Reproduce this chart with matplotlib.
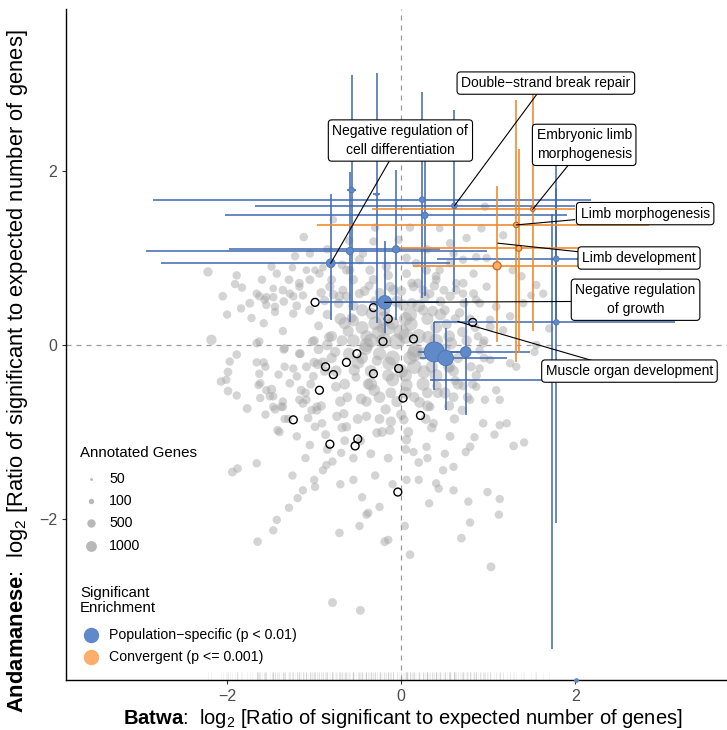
import numpy as np
import matplotlib.pyplot as plt

plt.rcParams['font.family'] = ['Liberation Sans', 'DejaVu Sans']
plt.rcParams['mathtext.fontset'] = 'custom'
plt.rcParams['mathtext.rm'] = 'Liberation Sans'
plt.rcParams['mathtext.bf'] = 'Liberation Sans:bold'
plt.rcParams['mathtext.it'] = 'Liberation Sans:italic'

# ---- background GO terms (grey cloud), by region: x = batwa, y = andamanese, n = annotated genes
# upper left
ul_x = [-2.22, -1.89, -1.91, -1.83, -2.05, -1.12, -1.22, -0.78, -1.49, -1.43,
        -1.25, -1.29, -1.17, -1.09, -0.99, -0.90, -0.94, -1.63, -1.55, -1.47,
        -1.74, -1.24, -1.13, -1.55, -1.45, -1.84, -1.72, -2.18, -1.89, -1.63,
        -1.34, -1.28, -1.47]
ul_y = [0.84, 0.80, 0.70, 0.66, 0.56, 1.24, 1.02, 1.44, 0.90, 0.82,
        0.89, 0.75, 0.67, 0.86, 0.86, 0.89, 0.82, 0.56, 0.55, 0.55,
        0.48, 0.56, 0.57, 0.46, 0.44, 0.42, 0.31, 0.06, -0.11, 0.04,
        -0.04, 0.59, 0.65]
ul_n = [700, 500, 500, 500, 550, 550, 500, 400, 500, 500,
        400, 550, 500, 400, 400, 400, 500, 500, 500, 500,
        600, 500, 500, 500, 500, 500, 500, 900, 550, 500,
        550, 500, 400]
# left middle
lm_x = [-1.97, -1.99, -2.07, -2.01, -1.99, -1.89, -1.77, -1.66, -1.58, -1.56,
        -1.63, -1.64, -1.49, -1.55, -1.47, -1.62, -1.45, -1.38, -1.36, -1.28,
        -1.41, -1.34, -1.24, -1.35, -1.66, -1.58, -1.36, -1.45, -1.24, -1.17,
        -1.09, -1.03, -1.40, -1.34, -1.07, -0.97, -0.99, -0.87, -0.91, -1.17,
        -1.09, -1.20, -1.15, -1.01]
lm_y = [-0.19, -0.31, -0.42, -0.40, -0.53, -0.58, -0.73, -0.20, -0.20, -0.25,
        -0.33, -0.46, -0.51, -0.52, -0.59, -0.61, -0.74, -0.71, -0.65, -0.44,
        -0.34, -0.25, -0.27, -0.05, 0.02, 0.25, 0.16, 0.38, 0.36, -0.63,
        -0.63, -0.75, -1.00, -0.85, -0.84, -0.71, -0.94, -1.03, -0.90, -0.10,
        -0.25, -0.36, -0.52, -0.36]
lm_n = [500, 550, 550, 500, 550, 500, 600, 500, 500, 500,
        500, 500, 700, 500, 500, 500, 550, 600, 500, 550,
        500, 500, 500, 600, 550, 500, 500, 500, 500, 550,
        550, 550, 550, 500, 550, 600, 550, 600, 550, 600,
        600, 550, 600, 600]
# lower left diagonal
ll_x = [-1.56, -1.47, -1.42, -1.94, -1.88, -1.66, -1.65, -1.47, -1.43, -1.29,
        -1.19, -1.13, -0.99, -1.00, -0.90, -0.86, -0.79, -0.69, -0.71, -0.38,
        -0.25, -0.19, -0.15, 0.04, 0.10, -0.48, -0.40, -0.79, -0.47]
ll_y = [-0.80, -0.71, -0.98, -1.46, -1.42, -1.36, -2.26, -2.13, -2.01, -1.87,
        -1.76, -1.67, -1.63, -1.55, -1.44, -1.38, -1.34, -1.24, -2.16, -1.93,
        -1.86, -2.26, -2.24, -2.08, -2.41, -2.08, -1.95, -2.96, -3.05]
ll_n = [500, 500, 550, 600, 550, 500, 550, 500, 500, 500,
        500, 500, 500, 500, 500, 500, 500, 500, 550, 550,
        500, 600, 500, 500, 550, 500, 500, 600, 600]
# lower right
lr_x = [1.29, 1.41, 1.03, 0.69, 0.79, 1.12, 1.13, 0.99, 0.77, 0.60,
        0.43, 0.32, 0.06, 0.14, 0.29, 0.48, 0.74, 0.84, 1.13, 1.21,
        1.07, 0.60, 0.40]
lr_y = [-1.16, -1.12, -2.55, -2.22, -2.04, -1.95, -1.77, -1.69, -1.80, -1.67,
        -1.65, -1.82, -1.55, -1.23, -1.17, -1.44, -1.23, -1.06, -0.92, -0.90,
        -1.03, -1.40, -1.59]
lr_n = [550, 500, 600, 550, 500, 500, 500, 500, 500, 500,
        500, 500, 500, 500, 500, 500, 500, 500, 500, 500,
        500, 500, 500]
# right middle
rm_x = [1.63, 1.55, 1.49, 1.40, 1.70, 1.55, 1.53, 1.09, 1.02, 1.25,
        1.17, 0.88, 0.90, 1.02, 1.25, 1.32, 0.90, 0.86, 1.09, 0.96,
        1.13, 0.79, 0.98, 0.86, 0.71, 0.63]
rm_y = [0.59, 0.69, 0.57, 0.48, 0.19, 0.00, -0.08, 0.44, 0.29, 0.33,
        0.17, 0.10, -0.06, -0.17, -0.21, -0.25, -0.27, -0.48, -0.52, -0.63,
        -0.63, -0.63, 0.67, 0.52, 0.59, 0.71]
rm_n = [500, 500, 400, 500, 500, 500, 500, 550, 500, 500,
        500, 500, 500, 500, 500, 500, 500, 500, 500, 500,
        500, 500, 500, 500, 500, 500]
# upper middle / right
um_x = [0.96, 0.75, 0.92, 0.44, 0.56, 1.17, 0.86, 0.98, 0.71, 0.56,
        0.44, 0.83, 1.28, 1.38, -0.32, -0.03, -0.44, 0.06, 0.17, 0.29,
        0.40, 0.63, 0.83, -0.63, -0.48, -0.36, -0.17, 0.06, -0.32, -0.13,
        0.14, 0.33, -0.48, -0.67]
um_y = [1.59, 1.23, 1.34, 1.34, 1.17, 1.26, 1.01, 1.00, 0.98, 0.94,
        0.86, 0.82, 0.86, 0.79, 1.19, 1.21, 1.05, 1.00, 0.94, 0.86,
        0.75, 0.63, 0.59, 0.86, 0.98, 0.86, 0.90, 0.82, 0.75, 0.67,
        0.67, 0.59, 0.59, 0.63]
um_n = [500, 500, 500, 400, 500, 500, 500, 500, 500, 500,
        500, 500, 500, 500, 500, 500, 500, 550, 550, 600,
        600, 600, 600, 600, 700, 700, 700, 600, 700, 800,
        700, 600, 700, 600]
# ring round the core
rc_x = [-0.92, -0.68, -0.47, -0.22, 0.08, 0.35, 0.61, 0.76, 0.86, 0.95,
        0.79, -1.04, -1.16, -1.66, -1.57, -1.36, -1.17, -1.05, -0.82, -0.71,
        -0.59, -0.63, 0.25, 0.40, 0.56, 0.71, 0.90, 1.02, 0.94, -1.62,
        -1.51, -1.36, -1.13, -0.97, -0.74, -0.63, -0.40, -0.28, -0.13, 0.06,
        0.37, 0.56, 0.79, 0.94]
rc_y = [-0.70, -0.95, -1.10, -1.00, -1.00, -0.95, -0.85, -0.60, -0.35, 0.05,
        0.30, -0.45, -0.10, 0.59, 0.52, 0.63, 0.71, 0.75, 0.67, 0.56,
        0.86, 0.56, 0.63, 0.79, 0.56, 0.71, 0.48, 0.21, 0.02, -0.44,
        -0.59, -0.71, -0.67, -0.75, -0.82, -0.94, -0.82, -1.01, -0.98, -1.09,
        -0.90, -1.05, -1.17, -0.90]
rc_n = [700, 700, 700, 800, 800, 700, 700, 700, 700, 600,
        600, 600, 600, 500, 500, 550, 600, 600, 700, 700,
        600, 700, 700, 600, 700, 600, 600, 600, 600, 500,
        500, 550, 600, 600, 700, 700, 700, 700, 700, 700,
        600, 600, 550, 550]
# filling between core and outskirts
mid_x = [-1.20, -1.05, -0.92, -0.80, -0.68, -0.55, -0.42, -0.30, -0.15, 0.00,
         0.12, 0.25, 0.38, 0.50, 0.62, 0.72, 0.85, 0.95, 0.82, 0.70,
         0.55, 0.42, 0.28, 0.15, 0.00, -0.12, -0.25, -0.38, -0.50, -0.62,
         -0.75, -0.88, -1.00, -1.10, -0.95, -0.80, -0.68, -0.55, -0.40, -0.25,
         -0.10, 0.10, 0.25, 0.40, 0.35, 0.50, 0.65, -0.15, 0.05, -0.45,
         -1.30, -1.20, -1.05, -0.85, -0.65, -0.55, -0.35, -0.15, 0.05, 0.20,
         -0.30, -0.10, 0.20, -0.55, -0.70, -0.45, 0.30, 0.50, -1.10, -1.25,
         -1.60, -1.35, -1.05, -0.85, -0.60, -0.30, 0.10, 0.30, 0.60, -2.00]
mid_y = [0.45, 0.40, 0.60, 0.75, 0.92, 0.75, 0.62, 0.50, 0.80, 0.62,
         0.48, 0.40, 0.68, 0.40, 0.30, 0.48, 0.20, -0.15, -0.45, -0.75,
         -0.70, -0.55, -0.85, -0.60, -0.80, -0.55, -0.85, -0.45, -0.85, -0.60,
         -0.48, -0.30, -0.20, -0.55, -0.05, -0.15, 0.05, 0.28, 0.10, -0.10,
         0.25, -0.15, -0.10, 0.20, -0.25, -0.05, -0.15, -0.35, -0.35, -0.15,
         -0.85, -1.05, -1.15, -1.20, -1.10, -1.30, -1.25, -1.30, -1.20, -1.35,
         -1.50, -1.60, -1.55, -1.55, -1.60, -1.75, -1.30, -1.25, -1.30, -1.50,
         0.75, 0.50, 1.05, 1.10, 1.20, 1.35, 1.35, 1.10, 1.05, 0.35]
mid_n = [600, 700, 700, 600, 600, 700, 800, 900, 700, 800,
         900, 900, 700, 800, 700, 600, 600, 600, 700, 700,
         800, 900, 800, 900, 900, 1000, 800, 1000, 800, 800,
         800, 700, 700, 600, 800, 900, 1000, 1100, 1300, 1500,
         1500, 1600, 1400, 1200, 1300, 1100, 900, 1300, 1400, 1200,
         500, 500, 550, 600, 600, 550, 600, 600, 600, 550,
         500, 500, 500, 500, 500, 500, 500, 500, 500, 500,
         500, 550, 500, 500, 500, 500, 500, 500, 500, 500]
# dense core
core_x = [-0.05, 0.16, -0.26, 0.11, -0.14, 0.31, 0.26, -0.41, -0.34, 0.02,
          0.46, -0.61, -0.54, 0.06, -0.31, 0.36, 0.52, -0.76, -0.09, 0.21,
          -0.46, -0.72, 0.57, -0.18, 0.27, -0.57, -0.83, 0.62, -0.96, -0.88,
          0.67, -0.12, 0.41, -0.66, -0.37, 0.19, -0.95, 0.71, -0.23, 0.49,
          0.03, -0.78, -0.52, 0.33, -1.02, 0.12, 0.55, -0.28, -0.70, -0.45,
          -0.20, 0.05, 0.30, 0.55, 0.40, 0.15, -0.10, -0.35, -0.60, -0.80,
          -0.65, -0.40, -0.05, 0.30, 0.60, 0.70, 0.45, -0.25, -0.55, -0.90,
          -0.20, 0.05, 0.20, -0.35, 0.60, 0.80, -1.00, -0.85,
          -0.15, 0.10, 0.35, -0.40, -0.65, 0.00, 0.25, -0.25, 0.45, -0.50,
          -0.30, 0.15, 0.55, -0.75, -0.05, 0.30, -0.55, 0.05, -0.20, 0.40,
          -0.85, 0.65, -0.10, 0.20, -0.45, 0.50, -0.70, 0.00, -0.35, 0.75]
core_y = [0.04, -0.06, 0.14, 0.24, -0.21, 0.09, -0.31, -0.04, 0.36, 0.46,
          -0.14, 0.16, -0.29, -0.46, -0.52, 0.39, 0.24, -0.08, 0.63, -0.66,
          -0.62, 0.48, 0.02, -0.74, 0.55, 0.31, 0.09, -0.41, -0.22, 0.51,
          0.37, -0.88, -0.47, -0.79, 0.68, 0.71, 0.22, -0.47, 0.19, 0.63,
          -0.86, 0.58, -0.37, -0.71, 0.04, 0.71, -0.26, -0.18, 0.30, 0.20,
          0.40, 0.30, 0.30, 0.10, -0.35, -0.25, -0.40, -0.30, -0.10, 0.10,
          -0.45, -0.65, -0.65, -0.55, -0.30, 0.15, 0.50, 0.60, 0.45, -0.20,
          0.05, 0.10, 0.10, 0.05, -0.60, -0.25, 0.05, 0.35,
          0.20, 0.35, -0.05, 0.00, 0.25, -0.30, -0.45, -0.60, 0.35, -0.20,
          0.25, -0.10, -0.25, -0.30, 0.50, -0.70, 0.05, -0.55, 0.30, 0.05,
          0.00, -0.45, -0.15, 0.45, 0.40, -0.55, -0.65, 0.15, -0.45, 0.05]
core_n = [2100, 1800, 1700, 1600, 1600, 1400, 1500, 1500, 1200, 1100,
          1200, 1100, 1100, 1300, 1200, 1000, 900, 900, 900, 1000,
          1000, 800, 1300, 900, 800, 800, 800, 700, 800, 700,
          700, 900, 700, 700, 600, 700, 600, 600, 700, 600,
          700, 700, 600, 600, 700, 600, 600, 900, 1200, 1500,
          1400, 1600, 1300, 1200, 1400, 1800, 1500, 1300, 1300, 1000,
          1000, 900, 1100, 1000, 1000, 900, 800, 800, 900, 800,
          2000, 2000, 1800, 1700, 800, 700, 700, 700,
          1800, 1700, 1900, 1700, 1300, 1600, 1500, 1200, 1200, 1500,
          1600, 2000, 1300, 1100, 1200, 1000, 1400, 1300, 1900, 1600,
          1000, 1000, 1900, 1400, 1300, 1100, 900, 2000, 1400, 900]

grey_x = ul_x + lm_x + ll_x + lr_x + rm_x + um_x + rc_x + mid_x + core_x
grey_y = ul_y + lm_y + ll_y + lr_y + rm_y + um_y + rc_y + mid_y + core_y
grey_n = ul_n + lm_n + ll_n + lr_n + rm_n + um_n + rc_n + mid_n + core_n

# circled terms (open black rings)
ring_x = [-0.99, -0.32, -0.15, -0.21, 0.14, 0.82, -0.51, -0.63, -0.87, -0.78,
          -0.03, -0.32, -0.94, 0.02, 0.22, -1.24, -0.50, -0.82, -0.53, -0.04]
ring_y = [0.49, 0.43, 0.30, 0.04, 0.07, 0.26, -0.10, -0.20, -0.25, -0.34,
          -0.27, -0.33, -0.52, -0.61, -0.81, -0.86, -1.08, -1.14, -1.16, -1.69]

# population-specific enrichment (blue) with CI ranges
pop_x = [-0.81, -0.59, -0.57, -0.28, 0.24, 0.61, 0.27, -0.06, -0.19, 0.38, 0.51, 0.74, 1.78, 1.73, 1.78]
pop_y = [0.94, 1.08, 1.78, 1.73, 1.67, 1.60, 1.49, 1.10, 0.49, -0.08, -0.15, -0.08, 0.26, -0.40, 0.99]
pop_n = [600, 350, 120, 50, 150, 150, 250, 350, 1600, 3000, 2000, 1000, 120, 120, 120]
pop_xlo = [-2.76, -2.93, -0.62, -0.32, -2.85, -1.68, -2.03, -1.98, -0.96, 0.19, 0.21, 0.25, 0.38, 0.33, 0.41]
pop_xhi = [0.56, 0.98, -0.52, -0.24, 2.18, 2.00, 1.90, 0.45, 0.43, 0.80, 1.21, 1.48, 3.14, 2.00, 2.30]
pop_ylo = [0.29, 0.27, 0.40, 0.25, 0.54, 0.61, 0.56, 0.29, 0.14, -0.52, -0.75, -0.80, -2.05, -3.49, 0.30]
pop_yhi = [1.74, 1.99, 3.10, 3.13, 2.91, 2.70, 2.13, 2.01, 1.19, 0.27, 0.20, 0.54, 2.07, 1.51, 1.80]
# one term with no andamanese hit (sits on the lower edge)
edge_x = [2.01]

# convergent enrichment (orange)
conv_x = [1.51, 1.32, 1.35, 1.10]
conv_y = [1.56, 1.38, 1.11, 0.91]
conv_n = [80, 100, 150, 450]
conv_xlo = [-0.34, -0.97, -0.02, 0.14]
conv_xhi = [1.99, 2.85, 2.05, 2.05]
conv_ylo = [0.16, -0.20, -0.09, 0.04]
conv_yhi = [2.90, 2.82, 2.25, 1.83]

# labels: text, label centre, segment start, segment end
labels = ['Negative regulation of\ncell differentiation', 'Double\u2212strand break repair',
          'Embryonic limb\nmorphogenesis', 'Limb morphogenesis', 'Limb development',
          'Negative regulation\nof growth', 'Muscle organ development']
lab_x = [-0.01, 1.66, 2.10, 2.80, 2.73, 2.69, 2.62]
lab_y = [2.35, 3.01, 2.30, 1.51, 1.00, 0.52, -0.30]
seg_x0 = [-0.81, 0.61, 1.51, 1.32, 1.11, -0.19, 0.65]
seg_y0 = [0.94, 1.60, 1.56, 1.38, 1.17, 0.49, 0.27]
seg_x1 = [-0.14, 1.57, 1.92, 1.99, 2.05, 1.95, 2.23]
seg_y1 = [2.11, 2.90, 2.07, 1.44, 1.07, 0.50, -0.19]

size_genes = [10, 50, 100, 500, 1000, 3000]
size_px = [1.0, 1.4, 2.7, 4.2, 5.4, 10.0]


def area(n):
    r = np.interp(n, size_genes, size_px)
    return (1.44 * r) ** 2


blue_pt = '#5f89c8'
blue_ln = '#3d68b0'
orange_pt = '#fdae6b'
orange_ln = '#f08a2c'

fig = plt.figure(figsize=(7.27, 7.30), dpi=100)
ax = fig.add_axes([0.0908, 0.0685, 0.9092, 0.919])
ax.set_xlim(-3.85, 3.74)
ax.set_ylim(-3.85, 3.86)

ax.axvline(0, color='#9a9a9a', lw=0.9, ls=(0, (4, 4)), zorder=1)
ax.axhline(0, color='#9a9a9a', lw=0.9, ls=(0, (4, 4)), zorder=1)

ax.scatter(grey_x, grey_y, s=area(np.array(grey_n)), color='#a6a6a6', alpha=0.48,
           linewidths=0, zorder=2)
# rug along the x axis
ax.vlines(grey_x, 0, 0.012, transform=ax.get_xaxis_transform(), color='#9a9a9a',
          alpha=0.12, lw=0.6, zorder=2)

ax.scatter(ring_x, ring_y, s=32, facecolors='none', edgecolors='black', linewidths=1.0, zorder=3)

ax.hlines(pop_y, pop_xlo, pop_xhi, color=blue_ln, lw=1.3, alpha=0.85, zorder=4)
ax.vlines(pop_x, pop_ylo, pop_yhi, color=blue_ln, lw=1.3, alpha=0.85, zorder=4)
ax.hlines(conv_y, conv_xlo, conv_xhi, color=orange_ln, lw=1.3, alpha=0.9, zorder=4)
ax.vlines(conv_x, conv_ylo, conv_yhi, color=orange_ln, lw=1.3, alpha=0.9, zorder=4)

ax.scatter(pop_x, pop_y, s=area(np.array(pop_n)), color=blue_pt, edgecolors='#4a74b5',
           linewidths=0.6, zorder=5)
ax.scatter(edge_x, [-3.85], s=area(60), color=blue_pt, zorder=5, clip_on=False)
ax.scatter(conv_x, conv_y, s=area(np.array(conv_n)), color=orange_pt, edgecolors='#c8661e',
           linewidths=0.9, zorder=5)

for i in range(len(labels)):
    ax.plot([seg_x0[i], seg_x1[i]], [seg_y0[i], seg_y1[i]], color='black', lw=0.8, zorder=6)
    ax.text(lab_x[i], lab_y[i], labels[i], ha='center', va='center', fontsize=10,
            linespacing=1.45, zorder=7,
            bbox=dict(boxstyle='round,pad=0.3,rounding_size=0.25', fc='white', ec='black', lw=0.8))

# axes styling
for side in ['top', 'right']:
    ax.spines[side].set_visible(False)
for side in ['left', 'bottom']:
    ax.spines[side].set_linewidth(1.0)
ax.set_xticks([-2, 0, 2])
ax.set_yticks([-2, 0, 2])
ax.set_xticklabels(['\u22122', '0', '2'])
ax.set_yticklabels(['\u22122', '0', '2'])
ax.tick_params(length=3, width=0.8, color='#333333', labelsize=11.5, labelcolor='#4d4d4d')
ax.set_xlabel(r'$\mathbf{Batwa}$:  log$_2$ [Ratio of significant to expected number of genes]',
              fontsize=14.5)
ax.set_ylabel(r'$\mathbf{Andamanese}$:  log$_2$ [Ratio of significant to expected number of genes]',
              fontsize=15.8)
ax.xaxis.set_label_coords(0.51, -0.040)
ax.yaxis.set_label_coords(-0.0545, 0.46)

# legends (drawn in axes fraction)
tr = ax.transAxes
ax.text(0.021, 0.338, 'Annotated Genes', transform=tr, fontsize=10.8, va='center')
leg_n = [50, 100, 500, 1000]
leg_y = [0.2996, 0.2668, 0.2340, 0.2001]
for n, yy in zip(leg_n, leg_y):
    ax.scatter([0.0373], [yy], s=area(n), color='#a6a6a6', alpha=0.8, linewidths=0,
               transform=tr, clip_on=False)
    ax.text(0.0655, yy, str(n), transform=tr, fontsize=10.2, va='center')
ax.text(0.021, 0.118, 'Significant\nEnrichment', transform=tr, fontsize=10.8, va='center',
        linespacing=1.1)
ax.scatter([0.0373], [0.0671], s=(1.44 * 7) ** 2, color=blue_pt, transform=tr, clip_on=False)
ax.text(0.0655, 0.0671, 'Population\u2212specific (p < 0.01)', transform=tr, fontsize=10.2, va='center')
ax.scatter([0.0373], [0.0348], s=(1.44 * 7) ** 2, color=orange_pt, transform=tr, clip_on=False)
ax.text(0.0655, 0.0348, 'Convergent (p <= 0.001)', transform=tr, fontsize=10.2, va='center')

fig.savefig('out.png', dpi=100)
